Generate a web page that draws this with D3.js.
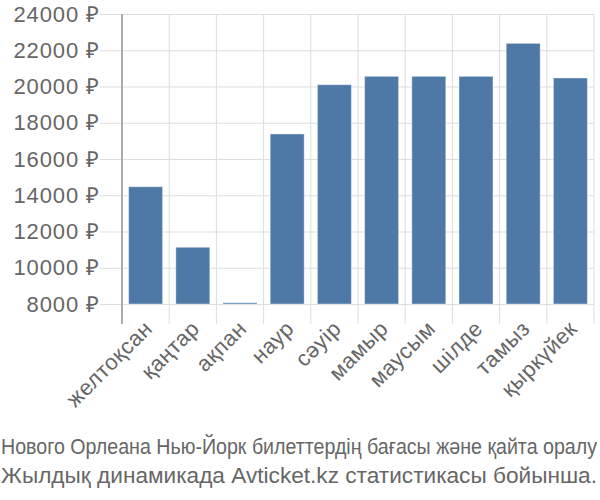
<!DOCTYPE html>
<html>
<head>
<meta charset="utf-8">
<script src="https://cdn.jsdelivr.net/npm/d3@7"></script>
<style>
    body { margin: 0; background: #fff; }
    svg { display: block; font-family: "Liberation Sans", Arial, sans-serif; }
</style>
</head>
<body>
<div id="chart"></div>
<script>
const months = ['желтоқсан', 'қаңтар', 'ақпан', 'наур', 'сәуір', 'мамыр', 'маусым', 'шілде', 'тамыз', 'қыркүйек'];
const prices = [14470, 11130, 8070, 17380, 20100, 20560, 20560, 20560, 22380, 20470];
const yTicks = [8000, 10000, 12000, 14000, 16000, 18000, 20000, 22000, 24000];
const captionLines = [
    'Нового Орлеана Нью-Йорк билеттердің бағасы және қайта оралу',
    'Жылдық динамикада Avticket.kz статистикасы бойынша.',
];

const W = 600, H = 500;
const margin = { top: 14, right: 6, bottom: 196, left: 122 };
const width = W - margin.left - margin.right;
const height = H - margin.top - margin.bottom;

const svg = d3.select('#chart').append('svg')
    .attr('width', W)
    .attr('height', H);

const main = svg.append('g')
    .attr('transform', `translate(${[margin.left, margin.top]})`);

const x = d3.scaleBand()
    .domain(months)
    .range([0, width])
    .paddingInner(0.28)
    .paddingOuter(0.14);

const y = d3.scaleLinear()
    .domain([8000, 24000])
    .range([height, 0]);

// vertical grid lines, one per band edge, running below the plot as ticks
const step = x.step();
const edges = d3.range(months.length + 1).map(i => i * step);
main.append('g')
    .selectAll('line')
    .data(edges)
    .join('line')
    .attr('x1', d => d).attr('x2', d => d)
    .attr('y1', 0).attr('y2', height + 20)
    .attr('stroke', '#ddd')
    .attr('stroke-width', 1);

// y axis with gridlines
const yAxis = d3.axisLeft(y)
    .tickValues(yTicks)
    .tickSize(-width)
    .tickPadding(0)
    .tickFormat(d => `${d} ₽`);

const yAxisG = main.append('g')
    .attr('class', 'axis y')
    .call(yAxis);
yAxisG.select('.domain').remove();
yAxisG.selectAll('.tick line')
    .attr('x1', -22)
    .attr('stroke', '#ddd');
yAxisG.selectAll('.tick text')
    .attr('x', -22)
    .attr('fill', '#666')
    .style('font-size', '22px')
    .style('letter-spacing', '0.9px');

// bars
main.append('g')
    .selectAll('rect')
    .data(prices)
    .join('rect')
    .attr('x', (d, i) => x(months[i]))
    .attr('width', x.bandwidth())
    .attr('y', d => y(d))
    .attr('height', d => y(8000) - y(d))
    .attr('fill', '#4e79a7')
    .attr('stroke', 'rgba(255,255,255,0.4)')
    .attr('stroke-width', 1);

// left axis line
main.append('line')
    .attr('x1', 0).attr('x2', 0)
    .attr('y1', 0).attr('y2', height + 20)
    .attr('stroke', '#aaa')
    .attr('stroke-width', 2);

// x labels
main.append('g')
    .selectAll('text')
    .data(months)
    .join('text')
    .attr('transform', d => `translate(${x(d) + x.bandwidth() / 2 + 8},${height + 26}) rotate(-45)`)
    .attr('text-anchor', 'end')
    .attr('fill', '#666')
    .style('font-size', '22px')
    .style('letter-spacing', '0.5px')
    .text(d => d);

// caption
svg.append('g')
    .selectAll('text')
    .data(captionLines)
    .join('text')
    .attr('x', 1)
    .attr('y', (d, i) => 454 + i * 29)
    .attr('textLength', 596)
    .attr('lengthAdjust', 'spacingAndGlyphs')
    .attr('fill', '#666')
    .style('font-size', '22px')
    .text(d => d);
</script>
</body>
</html>
